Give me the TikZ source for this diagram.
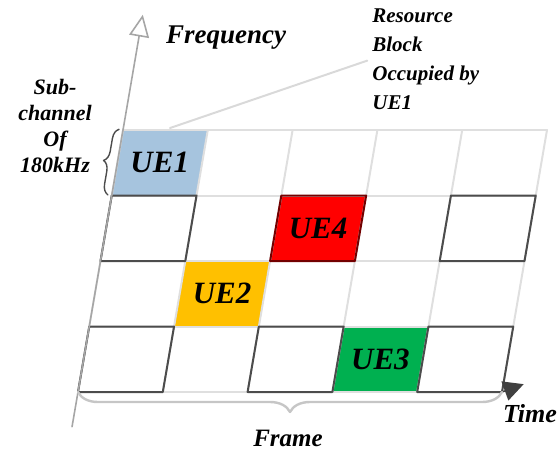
\documentclass[tikz,border=0pt]{standalone}
\usepackage{fontspec}
\setmainfont{Liberation Serif}
\usetikzlibrary{arrows.meta,decorations.pathreplacing}

\definecolor{ueblue}{RGB}{166,196,222}
\definecolor{uered}{RGB}{255,0,0}
\definecolor{ueyellow}{RGB}{255,192,0}
\definecolor{uegreen}{RGB}{0,176,80}

\begin{document}
\begin{tikzpicture}[x=0.5pt, y=-0.5pt, line cap=round, line join=round]

%---- STYLES ----
\tikzset{
    lightline/.style={gray!25, line width=1pt},
    darkcell/.style={black!70, line width=1pt},
    axisline/.style={gray!70, line width=0.8pt},
    ue/.style={font=\fontsize{15.5}{18}\selectfont\bfseries\itshape},
    lbl/.style args={#1/#2}{font=\fontsize{#1}{#2}\selectfont\bfseries\itshape},
}

\useasboundingbox (0,0) rectangle (558,452);

%---- GRID (one unit = one resource block) ----
\begin{scope}[shift={(78,392)}, x={(42.4pt,0pt)}, y={(5.625pt,32.75pt)}]

% CORNERS
\foreach \c in {0,...,5}
  \foreach \r in {0,...,4}
    \coordinate (g-\c-\r) at (\c,\r);

% OCCUPIED BLOCKS
\foreach \c/\r/\col in {0/3/ueblue, 1/1/ueyellow, 2/2/uered, 3/0/uegreen}
  \fill[\col] (g-\c-\r) -- ++(1,0) -- ++(0,1) -- ++(-1,0) -- cycle;

% light lines
\foreach \r in {0,...,4} \draw[lightline] (g-0-\r) -- (g-5-\r);
\foreach \c in {0,...,5} \draw[lightline] (g-\c-0) -- (g-\c-4);

% dark outlined blocks
\foreach \c/\r in {0/0, 2/0, 4/0, 0/2, 4/2}
  \draw[darkcell] (g-\c-\r) -- ++(1,0) -- ++(0,1) -- ++(-1,0) -- cycle;
\draw[red!45!black, line width=1pt] (g-2-2) -- ++(1,0) -- ++(0,1) -- ++(-1,0) -- cycle;

%--- UE LABELS
\node[ue] (ue1) at (0.5,3.5) {UE1};
\node[ue] (ue2) at (1.5,1.5) {UE2};
\node[ue] (ue3) at (3.5,0.5) {UE3};
\node[ue] (ue4) at (2.5,2.5) {UE4};

% axis ends
\coordinate (fbase) at (0,-0.53);
\coordinate (ftop) at (0,5.76);
\coordinate (tend) at (5.24,0.12);
\coordinate (lead) at (0.55,4.03);

%---- AXES ----
\draw[axisline, -{Triangle[open, length=11pt, width=10pt]}] (fbase) -- (ftop);
\draw[black!75, line width=0.8pt, -{Triangle[length=10pt, width=10pt]}] (g-5-0) -- (tend);

%---- BRACES ----
\draw[black!70, line width=0.7pt, decorate,
      decoration={brace, amplitude=5pt, raise=2pt}] (g-0-3) -- (g-0-4);
\draw[gray!45, line width=1.2pt, decorate,
      decoration={brace, amplitude=10pt}] (g-5-0) -- (g-0-0);

\end{scope}

%---- TEXT ----
\node[lbl=13.5/16] (freq) at (226,38) {Frequency};
\node[lbl=13/16] (time) at (530,414) {Time};
\node[lbl=12.5/15] (frame) at (288,438) {Frame};
\node[lbl=11/13, align=center] (sub) at (55,126)
    {Sub-\\channel\\Of\\180kHz};
\node[lbl=10.5/14.5, align=left, anchor=west, inner sep=0pt] (rb) at (372,59)
    {Resource\\Block\\Occupied by\\UE1};

% leader to the block
\draw[gray!30, line width=1pt, shorten >=2.5pt] (lead) -- (rb.west);

\end{tikzpicture}
\end{document}
